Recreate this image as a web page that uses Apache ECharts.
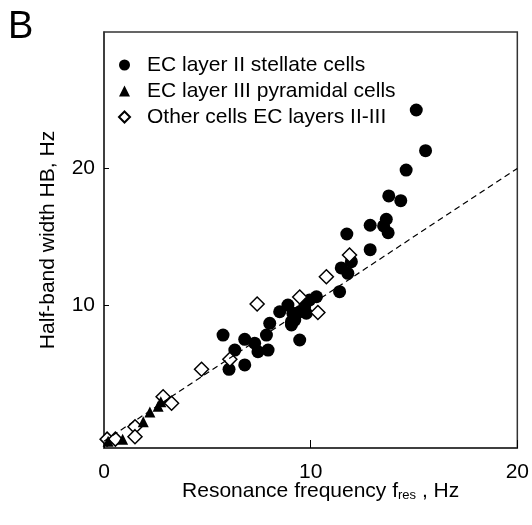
<!DOCTYPE html>
<html>
<head>
<meta charset="utf-8">
<script src="https://cdn.jsdelivr.net/npm/echarts@6/dist/echarts.min.js"></script>
<style>
  html, body { margin: 0; padding: 0; background: #fff; }
  #chart { width: 532px; height: 525px; }
</style>
</head>
<body>
<div id="chart"></div>
<script>
// resonance frequency (Hz) vs half-band width (Hz)
const stellateCells = [
    [15.11, 24.28], [15.56, 21.30], [14.62, 19.88], [13.78, 17.98], [14.36, 17.63],
    [13.66, 16.27], [13.53, 15.78], [13.75, 15.28], [12.88, 15.83], [11.75, 15.19],
    [12.88, 14.04], [11.97, 13.16], [11.48, 12.70], [11.80, 12.31], [11.40, 10.96],
    [10.28, 10.59], [9.95, 10.35], [9.71, 9.86], [9.79, 9.38], [9.14, 9.38],
    [9.23, 8.88], [9.07, 8.52], [9.47, 7.42], [8.90, 9.98], [8.50, 9.49],
    [9.47, 9.49], [8.02, 8.64], [9.07, 8.76], [7.86, 7.78], [5.76, 7.78],
    [6.81, 7.47], [7.29, 7.18], [6.33, 6.68], [7.45, 6.56], [7.94, 6.68],
    [6.05, 5.27], [6.81, 5.59]
];
const pyramidalCells = [
    [2.62, 2.56], [2.75, 2.90], [2.22, 2.14], [1.90, 1.43], [0.20, 0.00], [0.90, 0.15]
];
const otherCells = [
    [11.88, 13.65], [10.76, 12.06], [9.47, 10.57], [10.35, 9.43], [7.41, 10.06],
    [6.09, 6.00], [4.72, 5.27], [2.86, 3.26], [3.27, 2.78], [1.50, 1.06],
    [1.50, 0.33], [0.15, 0.15], [0.55, 0.15]
];
const unityLine = [[0, 0], [20, 20]];
const seriesNames = ['EC layer II stellate cells', 'EC layer III pyramidal cells', 'Other cells EC layers II-III'];
const yTickValues = [10, 20];

const font = '"Liberation Sans", Arial, sans-serif';
const chart = echarts.init(document.getElementById('chart'));

chart.setOption({
    animation: false,
    backgroundColor: '#fff',
    title: {
        text: 'B', left: 8, top: 9, padding: 0,
        textStyle: { fontFamily: font, fontSize: 38, fontWeight: 'normal', color: '#000' }
    },
    grid: {
        left: 104, right: 14, top: 32, bottom: 77,
        show: true, borderColor: '#333', borderWidth: 1.5, backgroundColor: 'transparent'
    },
    legend: {
        data: seriesNames,
        orient: 'vertical',
        left: 113, top: 48,
        itemWidth: 11, itemHeight: 11, itemGap: 2,
        textStyle: { fontFamily: font, fontSize: 21, color: '#000', lineHeight: 24, padding: [0, 0, 0, 12] }
    },
    xAxis: {
        type: 'value', min: 0, max: 20, interval: 10,
        name: 'Resonance frequency f{sub|res} , Hz',
        nameLocation: 'middle', nameGap: 32, nameMoveOverlap: false,
        nameTextStyle: {
            fontFamily: font, fontSize: 21, color: '#000', padding: [0, 0, 0, 20],
            rich: { sub: { fontFamily: font, fontSize: 13, color: '#000', padding: [9, 0, 0, 0] } }
        },
        axisLine: { onZero: false, lineStyle: { color: '#333', width: 1.5 } },
        axisTick: { inside: true, length: 8, lineStyle: { color: '#000' } },
        axisLabel: { margin: 14, fontFamily: font, fontSize: 21, color: '#000' },
        splitLine: { show: false }
    },
    yAxis: {
        type: 'value', min: -0.5, max: 30,
        name: 'Half-band width HB, Hz',
        nameLocation: 'middle', nameGap: 45, nameMoveOverlap: false,
        nameTextStyle: { fontFamily: font, fontSize: 21, color: '#000' },
        axisLine: { onZero: false, lineStyle: { color: '#333', width: 1.5 } },
        axisTick: { inside: true, length: 5, customValues: yTickValues, lineStyle: { color: '#000' } },
        axisLabel: { margin: 9, fontFamily: font, fontSize: 21, color: '#000', customValues: yTickValues },
        splitLine: { show: false }
    },
    series: [
        {
            type: 'line', data: unityLine, symbol: 'none', silent: true,
            lineStyle: { color: '#000', width: 1.2, type: [6, 4] }
        },
        {
            name: seriesNames[0], type: 'scatter', data: stellateCells,
            symbol: 'circle', symbolSize: 13,
            itemStyle: { color: '#000', opacity: 1 }
        },
        {
            name: seriesNames[2], type: 'scatter', data: otherCells,
            symbol: 'diamond', symbolSize: 14,
            itemStyle: { color: '#fff', borderColor: '#000', borderWidth: 1.5, opacity: 1 }
        },
        {
            name: seriesNames[1], type: 'scatter', data: pyramidalCells,
            symbol: 'triangle', symbolSize: 11,
            itemStyle: { color: '#000', opacity: 1 }
        }
    ]
});
</script>
</body>
</html>
